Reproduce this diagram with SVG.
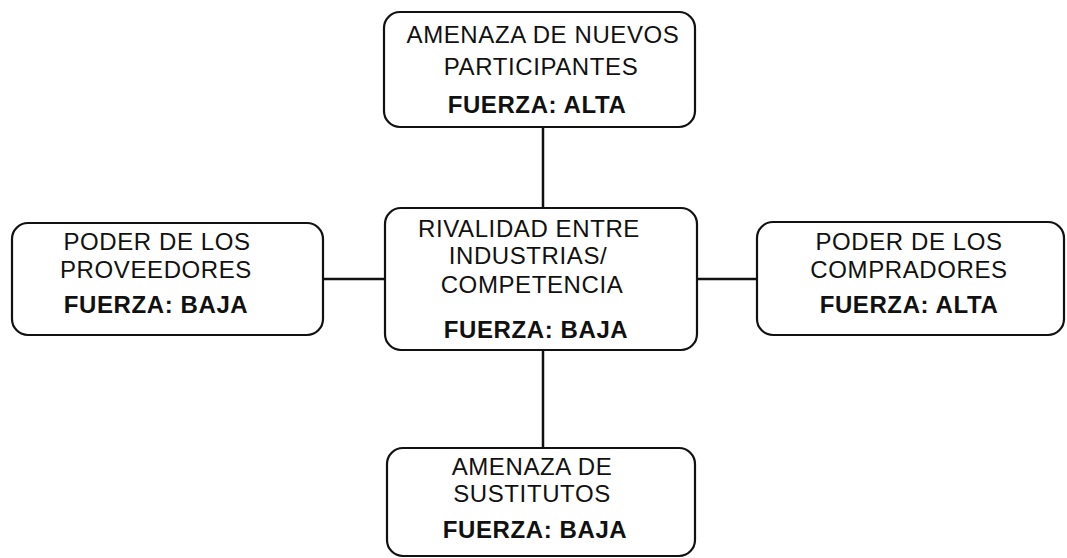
<svg xmlns="http://www.w3.org/2000/svg" width="1067" height="558" viewBox="0 0 1067 558">
<style>
.box{fill:#fff;stroke:#111;stroke-width:2.2}
.t{font-family:"Liberation Sans",Arial,sans-serif;font-size:24px;fill:#111;text-anchor:middle;letter-spacing:0.6px}
.b{font-family:"Liberation Sans",Arial,sans-serif;font-size:24px;font-weight:bold;fill:#111;text-anchor:middle;letter-spacing:0.6px}
.c{stroke:#111;stroke-width:2.5;fill:none}
</style>
<rect width="1067" height="558" fill="#fff"/>
<g id="connectors">
<line class="c" x1="543" y1="127" x2="543" y2="208"/>
<line class="c" x1="543" y1="350" x2="543" y2="448"/>
<line class="c" x1="323" y1="279" x2="385" y2="279"/>
<line class="c" x1="697" y1="279" x2="757" y2="279"/>
</g>
<g id="top">
<rect class="box" x="384" y="12" width="311" height="115" rx="16"/>
<text class="t" x="543" y="43">AMENAZA DE NUEVOS</text>
<text class="t" x="541" y="75">PARTICIPANTES</text>
<text class="b" x="537" y="113">FUERZA: ALTA</text>
</g>
<g id="left">
<rect class="box" x="12" y="223" width="311" height="112" rx="16"/>
<text class="t" x="157" y="250">PODER DE LOS</text>
<text class="t" x="156" y="278">PROVEEDORES</text>
<text class="b" x="156" y="313">FUERZA: BAJA</text>
</g>
<g id="center">
<rect class="box" x="385" y="208" width="312" height="142" rx="16"/>
<text class="t" x="529" y="237">RIVALIDAD ENTRE</text>
<text class="t" x="528" y="264">INDUSTRIAS/</text>
<text class="t" x="532" y="293">COMPETENCIA</text>
<text class="b" x="536" y="338">FUERZA: BAJA</text>
</g>
<g id="right">
<rect class="box" x="757" y="222" width="307" height="113" rx="16"/>
<text class="t" x="909" y="250">PODER DE LOS</text>
<text class="t" x="909" y="278">COMPRADORES</text>
<text class="b" x="909" y="313">FUERZA: ALTA</text>
</g>
<g id="bottom">
<rect class="box" x="387" y="448" width="308" height="108" rx="16"/>
<text class="t" x="532" y="475">AMENAZA DE</text>
<text class="t" x="532" y="502">SUSTITUTOS</text>
<text class="b" x="535" y="538">FUERZA: BAJA</text>
</g>
</svg>
